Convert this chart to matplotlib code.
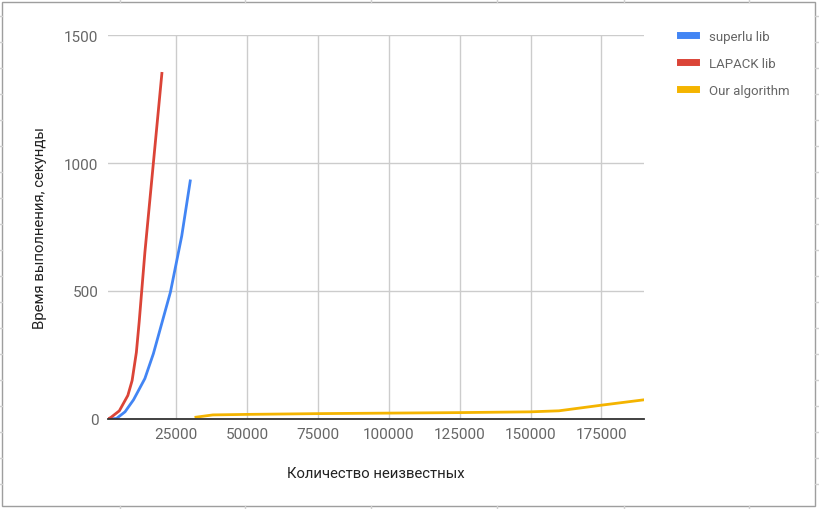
import matplotlib.pyplot as plt
from matplotlib.lines import Line2D
from matplotlib.patches import Rectangle

plt.rcParams['font.family'] = ['Roboto', 'DejaVu Sans']

# данные
superlu_n = [1000, 4000, 7000, 10000, 14000, 17000, 20000, 23000, 27000, 30000]
superlu_t = [0, 2, 28, 75, 158, 255, 375, 495, 715, 930]

lapack_n = [1000, 2000, 5000, 8000, 9500, 11000, 12000, 14000, 17000, 20000]
lapack_t = [0, 6, 32, 92, 150, 260, 380, 650, 1000, 1350]

ours_n = [32000, 38000, 50000, 75000, 100000, 125000, 150000, 160000, 175000, 190000]
ours_t = [7, 16, 18, 21, 23, 25, 28, 32, 54, 75]

x_ticks = [25000, 50000, 75000, 100000, 125000, 150000, 175000]
y_ticks = [0, 500, 1000, 1500]

W, H = 819, 510
fig = plt.figure(figsize=(W / 100, H / 100), dpi=100)
ax = fig.add_axes([108 / W, 1 - 420 / H, (644 - 108) / W, (420 - 36) / H])

ax.plot(superlu_n, superlu_t, color='#4285F4', lw=2, label='superlu lib')
ax.plot(lapack_n, lapack_t, color='#DB4437', lw=2, label='LAPACK lib')
ax.plot(ours_n, ours_t, color='#F4B400', lw=2, label='Our algorithm')

ax.set_xlim(1000, 190000)
ax.set_ylim(0, 1500)
ax.set_xticks(x_ticks)
ax.set_yticks(y_ticks)
ax.set_xticklabels([str(v) for v in x_ticks])
ax.set_yticklabels([str(v) for v in y_ticks])
ax.grid(True, color='#cccccc', lw=1)
ax.set_axisbelow(True)
for s in ['left', 'right', 'top']:
    ax.spines[s].set_visible(False)
ax.spines['bottom'].set_color('#333333')
ax.spines['bottom'].set_linewidth(1.3)
ax.tick_params(length=0, labelsize=11, labelcolor='#666666', pad=7)
ax.tick_params(axis='x', pad=6)

ax.set_xlabel('Количество неизвестных', fontsize=10.7, color='#222222', labelpad=18)
ax.set_ylabel('Время выполнения, секунды', fontsize=10.7, color='#222222', labelpad=12)

leg = ax.legend(loc='upper left', bbox_to_anchor=(668 / W, 1 - 19 / H),
                bbox_transform=fig.transFigure, frameon=False,
                fontsize=9.5, handlelength=1.2, handletextpad=1.0, labelspacing=1.05)
for h in leg.legend_handles:
    h.set_linewidth(5)
for t in leg.get_texts():
    t.set_color('#666666')

# рамка и обрывки сетки таблицы
fig.add_artist(Rectangle((2 / W, 3 / H), 813 / W, 504 / H, transform=fig.transFigure,
                         fill=False, edgecolor='#9e9e9e', lw=1))
for y in range(17, 500, 26):
    fig.add_artist(Line2D([0, 2 / W], [1 - y / H] * 2, color='#d0d0d0', lw=1))
    fig.add_artist(Line2D([815 / W, 1], [1 - y / H] * 2, color='#d0d0d0', lw=1))
for x in [120, 245, 371, 497, 624, 749]:
    fig.add_artist(Line2D([x / W] * 2, [1 - 3 / H, 1], color='#d0d0d0', lw=1))
    fig.add_artist(Line2D([x / W] * 2, [0, 3 / H], color='#d0d0d0', lw=1))

fig.savefig('out.png', dpi=100)
